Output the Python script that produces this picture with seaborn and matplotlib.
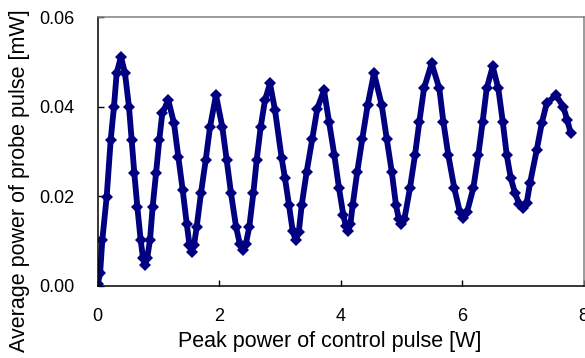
import matplotlib
matplotlib.use("Agg")
import matplotlib.pyplot as plt
import seaborn as sns
import pandas as pd

# Values
control_power_w = [
    0.00, 0.04, 0.076, 0.148, 0.214, 0.268, 0.312, 0.383,
    0.449, 0.515, 0.559, 0.603, 0.652, 0.707, 0.745, 0.779, 0.815,
    0.861, 0.905, 0.96, 1.014, 1.063, 1.162,
    1.256, 1.327, 1.399, 1.465, 1.51, 1.547, 1.585,
    1.63, 1.70, 1.778, 1.849, 1.947,
    2.051, 2.123, 2.194, 2.277, 2.34, 2.387, 2.44,
    2.496, 2.562, 2.617, 2.683, 2.754, 2.836,
    2.918, 3.028, 3.083, 3.149, 3.21, 3.259, 3.31,
    3.358, 3.44, 3.533, 3.615, 3.725,
    3.807, 3.895, 3.972, 4.043, 4.085, 4.125, 4.16,
    4.197, 4.273, 4.356, 4.444, 4.548,
    4.675, 4.757, 4.84, 4.91, 4.955, 5.0, 5.05,
    5.14, 5.223, 5.295, 5.371, 5.497,
    5.623, 5.689, 5.771, 5.87, 5.96, 6.018, 6.08,
    6.183, 6.265, 6.337, 6.403, 6.502,
    6.594, 6.667, 6.733, 6.80, 6.869, 6.94, 7.006, 7.06,
    7.116, 7.226, 7.309, 7.391, 7.544,
    7.664, 7.73, 7.786,
]
probe_power_mw = [
    0.0003, 0.0028, 0.0102, 0.0199, 0.0326, 0.0400, 0.0475, 0.0512,
    0.0475, 0.0400, 0.0326, 0.0251, 0.0177, 0.0102, 0.0063, 0.0047, 0.0062,
    0.0102, 0.0177, 0.0251, 0.0326, 0.0385, 0.0415,
    0.0363, 0.0288, 0.0214, 0.0139, 0.0092, 0.0075, 0.0090,
    0.0132, 0.0207, 0.0281, 0.0355, 0.0426,
    0.0355, 0.0281, 0.0207, 0.0132, 0.0093, 0.0080, 0.0094,
    0.0132, 0.0207, 0.0281, 0.0355, 0.0415, 0.0452,
    0.0393, 0.0285, 0.0240, 0.0180, 0.0122, 0.0102, 0.0120,
    0.0180, 0.0255, 0.0329, 0.0396, 0.0437,
    0.0367, 0.0292, 0.0218, 0.0158, 0.0134, 0.0122, 0.0138,
    0.0180, 0.0255, 0.0329, 0.0404, 0.0475,
    0.0404, 0.0329, 0.0255, 0.0180, 0.0150, 0.0139, 0.0150,
    0.0218, 0.0292, 0.0367, 0.0441, 0.0497,
    0.0441, 0.0367, 0.0292, 0.0218, 0.0165, 0.0151, 0.0165,
    0.0218, 0.0292, 0.0367, 0.0441, 0.0490,
    0.0441, 0.0367, 0.0292, 0.0240, 0.0207, 0.0182, 0.0173, 0.0184,
    0.0229, 0.0303, 0.0363, 0.0408, 0.0426,
    0.0400, 0.0370, 0.0341,
]
x_ticks = [0, 2, 4, 6, 8]
x_tick_labels = ["0", "2", "4", "6", "8"]
y_ticks = [0.00, 0.02, 0.04, 0.06]
y_tick_labels = ["0.00", "0.02", "0.04", "0.06"]
x_label = "Peak power of control pulse [W]"
y_label = "Average power of probe pulse [mW]"

sns.set_style("white")
plt.rcParams["font.family"] = ["Liberation Sans", "DejaVu Sans"]

df = pd.DataFrame({"x": control_power_w, "y": probe_power_mw})

fig = plt.figure(figsize=(5.85, 3.58), dpi=100)
fig.patch.set_facecolor("white")
ax = fig.add_axes([0.1670, 0.2020, 0.8308, 0.7497])

sns.lineplot(data=df, x="x", y="y", ax=ax, sort=False, estimator=None,
             color="#000080", linewidth=4.2, marker="D", markersize=6,
             markeredgewidth=0, solid_joinstyle="round", solid_capstyle="round")

ax.set_xlim(0, 8)
ax.set_ylim(0, 0.06)
ax.set_xticks(x_ticks)
ax.set_xticklabels(x_tick_labels)
ax.set_yticks(y_ticks)
ax.set_yticklabels(y_tick_labels)

ax.tick_params(axis="x", direction="in", length=4.5, width=1, color="black",
               labelsize=13, pad=16.3, bottom=True, top=False, labelcolor="black")
ax.tick_params(axis="y", direction="in", length=4.5, width=1, color="black",
               labelsize=13, pad=16.5, left=True, right=False, labelcolor="black")

for side in ["left", "bottom"]:
    ax.spines[side].set_color("black")
    ax.spines[side].set_linewidth(1.1)
for side in ["top", "right"]:
    ax.spines[side].set_color("#808080")
    ax.spines[side].set_linewidth(1.1)

ax.set_xlabel(x_label, fontsize=15.5, color="black")
ax.xaxis.set_label_coords(0.478, -0.167)
ax.set_ylabel(y_label, fontsize=15.5, color="black")
ax.yaxis.label.set_rotation_mode("default")
ax.yaxis.label.set_ha("center")
ax.yaxis.label.set_va("center")
ax.yaxis.set_label_coords(-0.1599, 0.392)

fig.savefig("out.png", dpi=100, facecolor="white")
